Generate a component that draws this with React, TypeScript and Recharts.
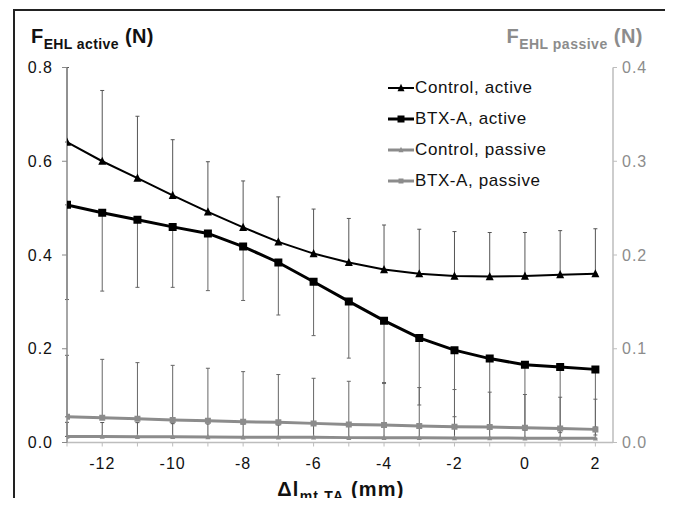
import { LineChart, Line, XAxis, YAxis, ErrorBar } from 'recharts';

const positions = [-13, -12, -11, -10, -9, -8, -7, -6, -5, -4, -3, -2, -1, 0, 1, 2];

const controlActive = [0.641, 0.6, 0.564, 0.527, 0.492, 0.459, 0.428, 0.403, 0.384, 0.369, 0.36, 0.355, 0.354, 0.355, 0.358, 0.36];
const controlActiveSd = [0.159, 0.151, 0.132, 0.119, 0.107, 0.099, 0.096, 0.095, 0.094, 0.095, 0.095, 0.095, 0.094, 0.093, 0.094, 0.096];

const btxActive = [0.507, 0.49, 0.475, 0.46, 0.446, 0.418, 0.384, 0.343, 0.301, 0.26, 0.223, 0.197, 0.179, 0.166, 0.161, 0.156];
const btxActiveSd = [0.202, 0.167, 0.144, 0.129, 0.122, 0.115, 0.112, 0.115, 0.121, 0.132, 0.143, 0.142, 0.142, 0.14, 0.14, 0.14];

const controlPassive = [0.0065, 0.0063, 0.0062, 0.0061, 0.0058, 0.0057, 0.0056, 0.0055, 0.0052, 0.0051, 0.005, 0.0049, 0.0048, 0.0046, 0.0045, 0.0045];
const controlPassiveSd = [0.015, 0.015, 0.015, 0.014, 0.014, 0.014, 0.013, 0.013, 0.013, 0.013, 0.013, 0.012, 0.012, 0.012, 0.012, 0.012];

const btxPassive = [0.0274, 0.0264, 0.0253, 0.0239, 0.0232, 0.0221, 0.0215, 0.0204, 0.0193, 0.0186, 0.0175, 0.0168, 0.0165, 0.0157, 0.015, 0.014];
const btxPassiveSd = [0.0656, 0.0623, 0.0599, 0.0584, 0.056, 0.0535, 0.051, 0.0481, 0.046, 0.0443, 0.0411, 0.0397, 0.0372, 0.0355, 0.0333, 0.0322];

const leftTicks = [0, 0.2, 0.4, 0.6, 0.8];
const rightTicks = [0, 0.1, 0.2, 0.3, 0.4];

const seriesNames = ['Control, active', 'BTX-A, active', 'Control, passive', 'BTX-A, passive'];

const data = positions.map((x, i) => ({
  x,
  controlActive: controlActive[i],
  controlActiveErr: [0, controlActiveSd[i]],
  btxActive: btxActive[i],
  btxActiveErr: [btxActiveSd[i], 0],
  controlPassive: controlPassive[i],
  controlPassiveErr: [0, controlPassiveSd[i]],
  btxPassive: btxPassive[i],
  btxPassiveErr: [0, btxPassiveSd[i]],
}));

const FONT = '"Liberation Sans", Arial, sans-serif';
const GRAY = '#8c8c8c';

function markerPath(kind: string, cx: number, cy: number, s: number) {
  if (kind === 'triangle') {
    const h = s * 0.9;
    return `M${cx},${cy - h / 2 - 1} L${cx + s / 2},${cy + h / 2} L${cx - s / 2},${cy + h / 2} Z`;
  }
  return `M${cx - s / 2},${cy - s / 2} h${s} v${s} h${-s} Z`;
}

const makeDot = (kind: string, size: number, fill: string) => (props: any) => {
  const { cx, cy, index } = props;
  if (cx == null || cy == null) return <g key={`d${index}`} />;
  return <path key={`d${index}`} d={markerPath(kind, cx, cy, size)} fill={fill} />;
};

const legendStyles = [
  { kind: 'triangle', color: '#000', width: 2, size: 7 },
  { kind: 'square', color: '#000', width: 3, size: 7 },
  { kind: 'triangle', color: GRAY, width: 3, size: 5 },
  { kind: 'square', color: GRAY, width: 3, size: 5 },
];

const tickFont = { fontSize: 16, fontFamily: FONT, letterSpacing: 1 };

function ChartLegend() {
  return (
    <div style={{ position: 'absolute', left: 387, top: 72, fontFamily: FONT, fontSize: 17, letterSpacing: 0.6, color: '#111' }}>
      {seriesNames.map((name, i) => {
        const st = legendStyles[i];
        return (
          <div key={name} style={{ display: 'flex', alignItems: 'center', height: 31 }}>
            <svg width={28} height={14} style={{ marginRight: 0 }}>
              <line x1={1} y1={7} x2={27} y2={7} stroke={st.color} strokeWidth={st.width} />
              <path d={markerPath(st.kind, 14, 7, st.size)} fill={st.color} />
            </svg>
            <span>{name}</span>
          </div>
        );
      })}
    </div>
  );
}

const titleStyle = {
  position: 'absolute' as const,
  fontFamily: FONT,
  fontWeight: 700,
  fontSize: 20,
  lineHeight: '20px',
  whiteSpace: 'nowrap' as const,
};

export default function App() {
  return (
    <div style={{ position: 'relative', width: 673, height: 506, margin: -8, overflow: 'hidden', background: '#fff' }}>
      <div style={{ position: 'absolute', left: 13, top: 9, width: 651, height: 520, border: '2px solid #222' }} />

      <LineChart
        width={673}
        height={506}
        data={data}
        margin={{ top: 67.5, right: 10, bottom: 33.5, left: 17 }}
        style={{ position: 'absolute', left: 0, top: 0 }}
      >
        <XAxis
          dataKey="x"
          type="number"
          domain={[-13, 2.5]}
          ticks={positions}
          interval={0}
          allowDataOverflow
          tickFormatter={(v: number) => (v % 2 === 0 ? String(v) : '')}
          height={30}
          tickSize={4}
          tickMargin={11}
          axisLine={{ stroke: '#bdbdbd', strokeWidth: 1.5 }}
          tickLine={{ stroke: '#bdbdbd' }}
          tick={{ fill: '#111', ...tickFont }}
        />
        <YAxis
          yAxisId="left"
          domain={[0, 0.8]}
          ticks={leftTicks}
          allowDataOverflow
          width={50}
          tickSize={5}
          tickMargin={9}
          tickFormatter={(v: number) => v.toFixed(1)}
          axisLine={{ stroke: '#888', strokeWidth: 1.5 }}
          tickLine={{ stroke: '#888' }}
          tick={{ fill: '#111', ...tickFont }}
        />
        <YAxis
          yAxisId="right"
          orientation="right"
          domain={[0, 0.4]}
          ticks={rightTicks}
          allowDataOverflow
          width={50}
          tickSize={4}
          tickMargin={5}
          tickFormatter={(v: number) => v.toFixed(1)}
          axisLine={{ stroke: '#bdbdbd', strokeWidth: 1.5 }}
          tickLine={{ stroke: '#bdbdbd' }}
          tick={{ fill: GRAY, ...tickFont }}
        />

        <Line
          yAxisId="right"
          dataKey="btxPassive"
          stroke={GRAY}
          strokeWidth={3}
          dot={makeDot('square', 6, GRAY)}
          isAnimationActive={false}
        >
          <ErrorBar dataKey="btxPassiveErr" width={2} stroke="#666" strokeWidth={1} />
        </Line>
        <Line
          yAxisId="right"
          dataKey="controlPassive"
          stroke={GRAY}
          strokeWidth={3}
          dot={makeDot('triangle', 5, GRAY)}
          isAnimationActive={false}
        >
          <ErrorBar dataKey="controlPassiveErr" width={2} stroke="#555" strokeWidth={1} />
        </Line>
        <Line
          yAxisId="left"
          dataKey="btxActive"
          stroke="#000"
          strokeWidth={3}
          dot={makeDot('square', 8, '#000')}
          isAnimationActive={false}
        >
          <ErrorBar dataKey="btxActiveErr" width={2} stroke="#666" strokeWidth={1} />
        </Line>
        <Line
          yAxisId="left"
          dataKey="controlActive"
          stroke="#000"
          strokeWidth={2}
          dot={makeDot('triangle', 8, '#000')}
          isAnimationActive={false}
        >
          <ErrorBar dataKey="controlActiveErr" width={2} stroke="#555" strokeWidth={1} />
        </Line>
      </LineChart>

      <div style={{ ...titleStyle, left: 31, top: 26, color: '#111', letterSpacing: 0.4 }}>
        F<span style={{ fontSize: 14, verticalAlign: -6 }}>EHL active</span> (N)
      </div>
      <div style={{ ...titleStyle, right: 30, top: 26, color: GRAY, letterSpacing: 0.5 }}>
        F<span style={{ fontSize: 14, verticalAlign: -6 }}>EHL passive</span> (N)
      </div>
      <div style={{ ...titleStyle, left: 0, width: 682, top: 479, textAlign: 'center', color: '#111', letterSpacing: 1.2 }}>
        Δl<span style={{ fontSize: 14, verticalAlign: -5 }}>mt TA</span> (mm)
      </div>

      <ChartLegend />
    </div>
  );
}
